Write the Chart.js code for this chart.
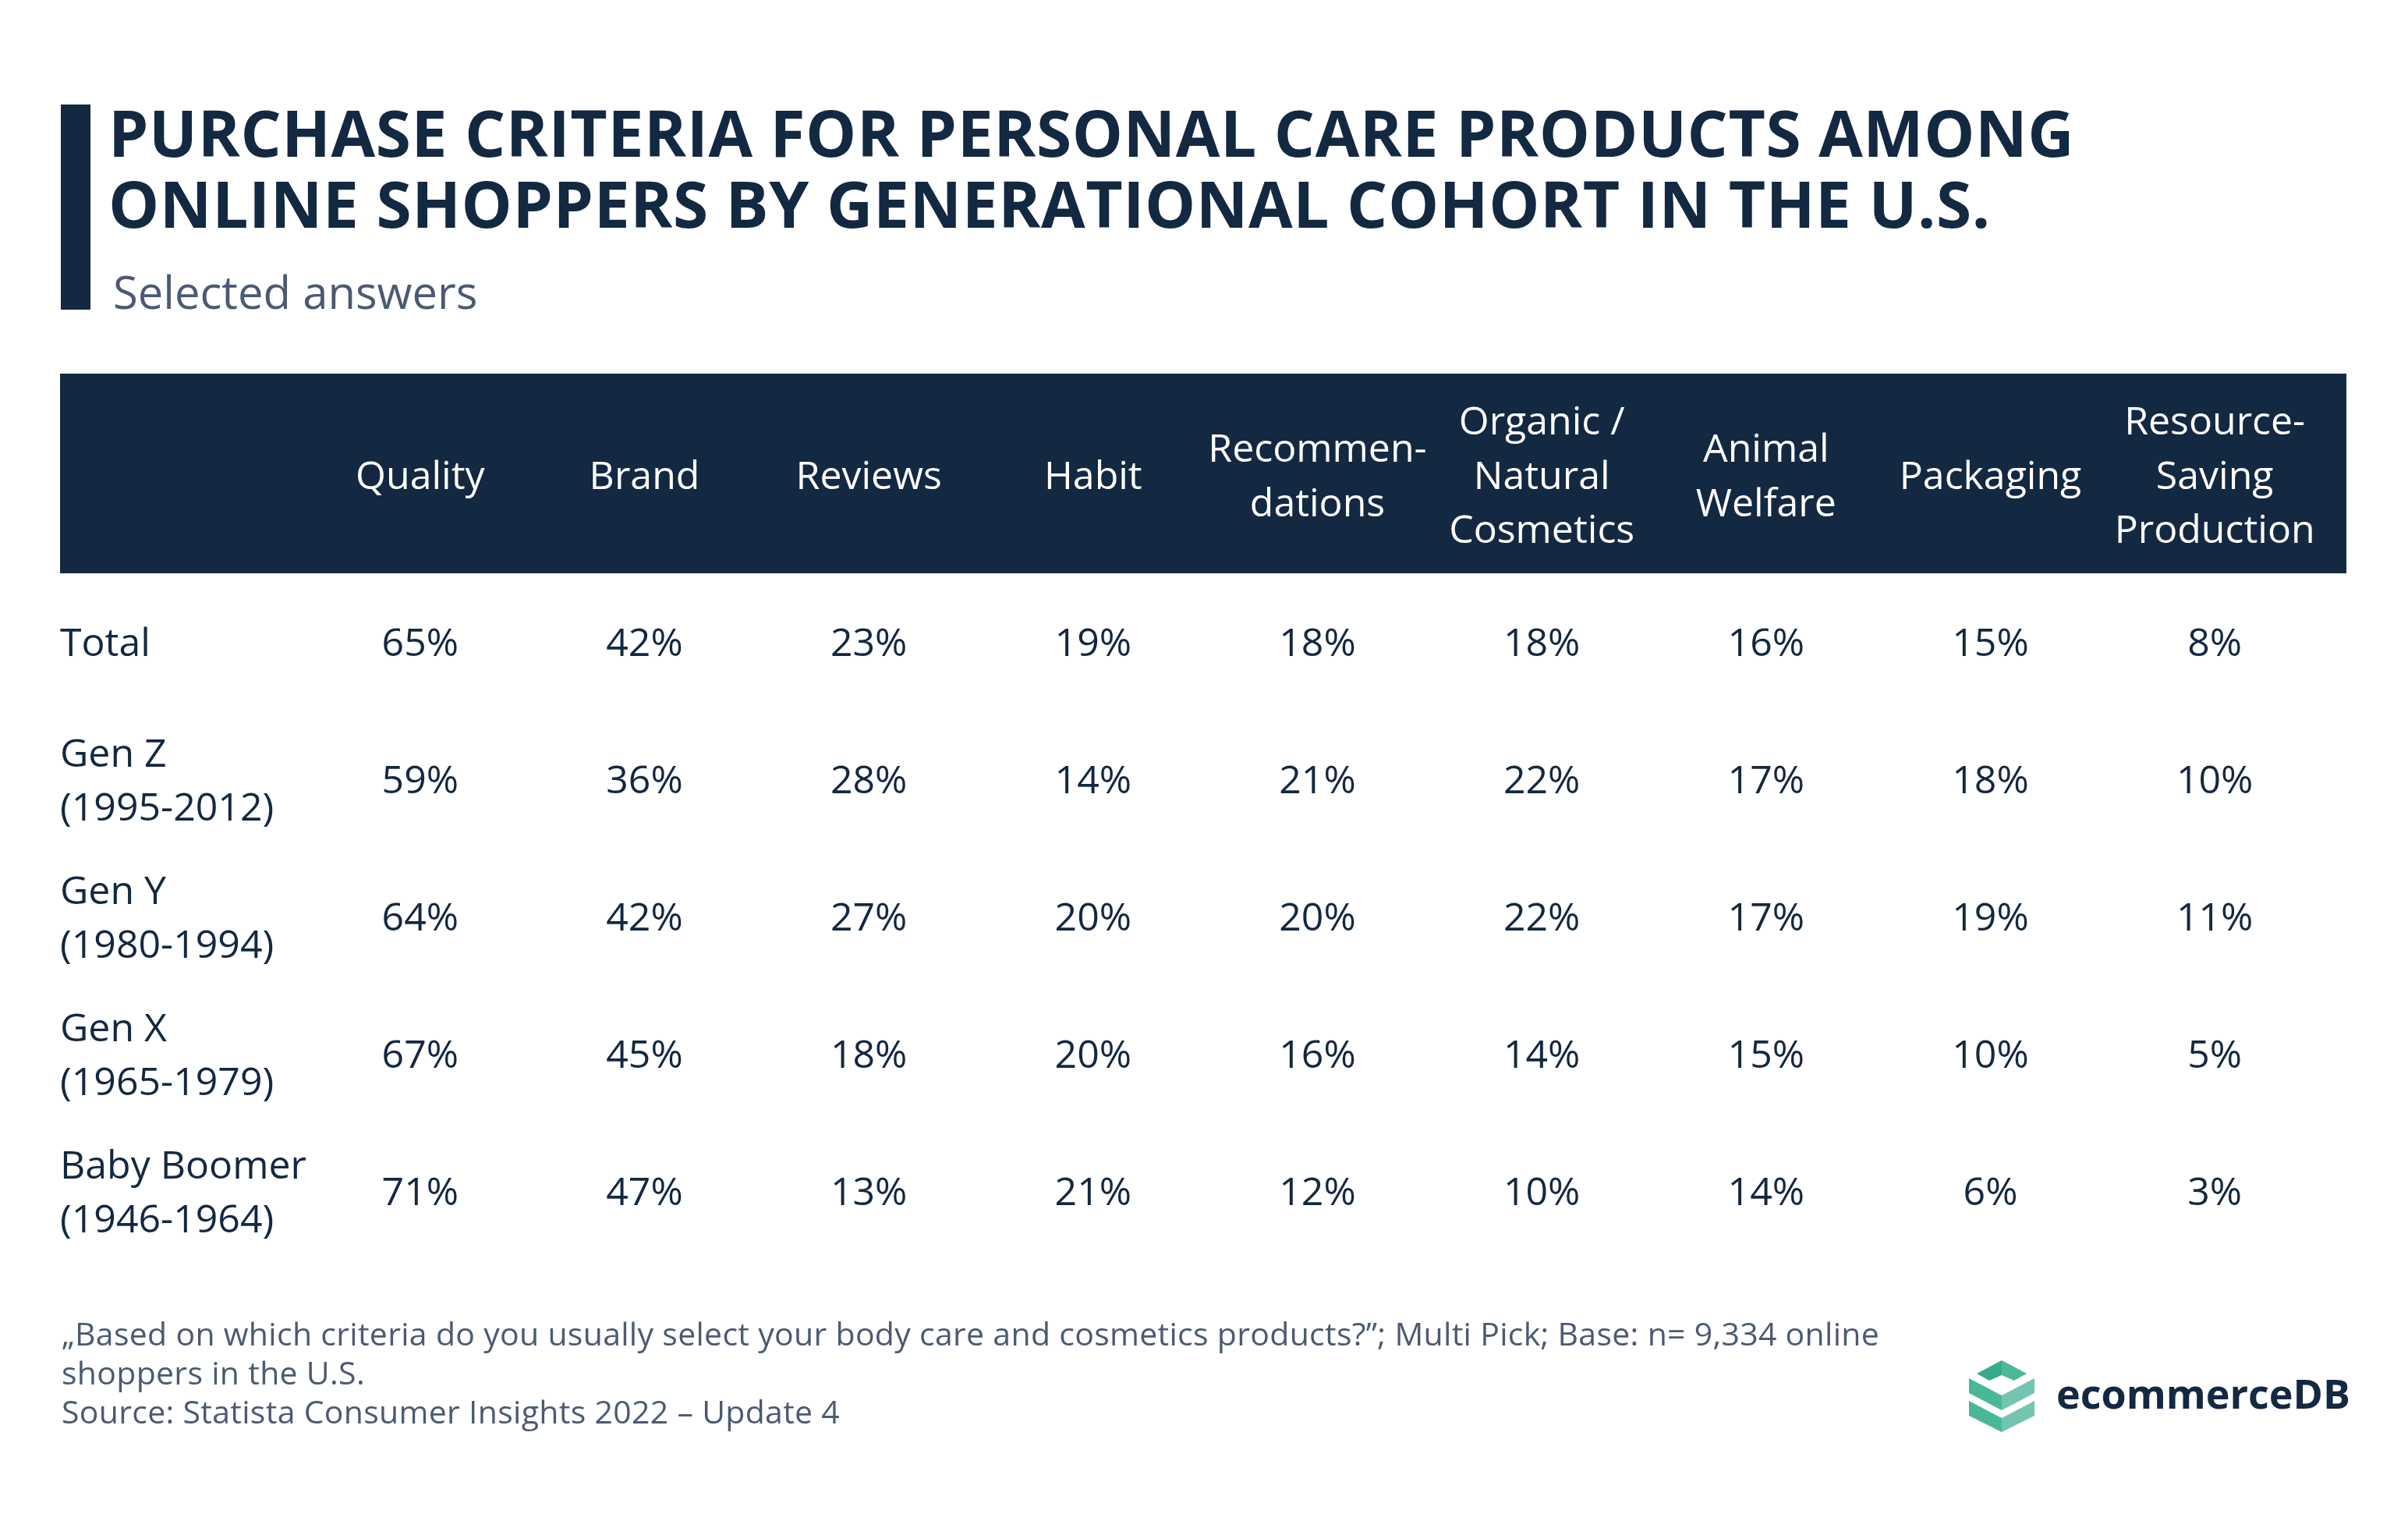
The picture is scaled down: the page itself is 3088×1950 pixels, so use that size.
<!DOCTYPE html>
<html>
<head>
<meta charset="utf-8">
<script src="https://cdn.jsdelivr.net/npm/chart.js@4.4.1/dist/chart.umd.min.js"></script>
<style>
    body{margin:0;background:#fff;font-family:'Open Sans',sans-serif;}
    .page{position:relative;width:3088px;height:1950px;overflow:hidden;background:#fff;}
    .chart_box{position:absolute;left:0;top:0;width:3088px;height:1950px;}
    .title_bar{position:absolute;left:78px;top:134px;width:38px;height:263px;background:#132841;}
    .title{position:absolute;left:139px;top:124px;font-size:82px;line-height:91px;letter-spacing:0.6px;font-weight:700;color:#132841;white-space:nowrap;}
    .subtitle{position:absolute;left:145px;top:339px;font-size:58px;line-height:70px;color:#4b5a73;white-space:nowrap;}
    .note{position:absolute;left:79px;top:1684px;font-size:41px;line-height:50px;letter-spacing:0.3px;color:#4b5a73;white-space:nowrap;}
    .logo{position:absolute;left:2525px;top:1744px;}
    .logo_text{position:absolute;left:2637px;top:1756px;font-size:52px;line-height:60px;font-weight:700;color:#132841;}
</style>
</head>
<body>
<div class="page">
    <div class="chart_box"><canvas id="criteriaTable"></canvas></div>
    <div class="title_bar"></div>
    <div class="title">PURCHASE CRITERIA FOR PERSONAL CARE PRODUCTS AMONG<br>ONLINE SHOPPERS BY GENERATIONAL COHORT IN THE U.S.</div>
    <div class="subtitle">Selected answers</div>
    <div class="note">„Based on which criteria do you usually select your body care and cosmetics products?”; Multi Pick; Base: n= 9,334 online<br>shoppers in the U.S.<br>Source: Statista Consumer Insights 2022 – Update 4</div>
    <svg class="logo" width="84" height="92" viewBox="0 0 84 92">
        <polygon points="10,17 42,0 42,19 26,26" fill="#38a98c"/>
        <polygon points="42,0 74,17 58,26 42,19" fill="#4bb898"/>
        <polygon points="0,23 42,45 42,64 0,42" fill="#4ab897"/>
        <polygon points="42,45 84,23 84,42 42,64" fill="#72c5b0"/>
        <polygon points="0,52 42,74 42,92 0,71" fill="#4ab897"/>
        <polygon points="42,74 84,52 84,71 42,92" fill="#72c5b0"/>
    </svg>
    <div class="logo_text">ecommerceDB</div>
</div>
<script>
const criteria = ['Quality','Brand','Reviews','Habit','Recommendations','Organic / Natural Cosmetics','Animal Welfare','Packaging','Resource-Saving Production']
const headerLines = [['Quality'],['Brand'],['Reviews'],['Habit'],['Recommen-','dations'],['Organic /','Natural','Cosmetics'],['Animal','Welfare'],['Packaging'],['Resource-','Saving','Production']]

const groups = ['Total','Gen Z (1995-2012)','Gen Y (1980-1994)','Gen X (1965-1979)','Baby Boomer (1946-1964)']
const groupLines = [['Total'],['Gen Z','(1995-2012)'],['Gen Y','(1980-1994)'],['Gen X','(1965-1979)'],['Baby Boomer','(1946-1964)']]

const total = [65,42,23,19,18,18,16,15,8]
const genZ = [59,36,28,14,21,22,17,18,10]
const genY = [64,42,27,20,20,22,17,19,11]
const genX = [67,45,18,20,16,14,15,10,5]
const babyBoomer = [71,47,13,21,12,10,14,6,3]
const rowValues = [total, genZ, genY, genX, babyBoomer]

const navy = '#132841'
const cellFont = {family:'Open Sans', size:50, lineHeight:1.39}

// dark band behind the column headers (top x axis)
const headerBand = {
    id:'headerBand',
    beforeDraw(chart){
        const x = chart.scales.x
        const ctx = chart.ctx
        ctx.save()
        ctx.fillStyle = navy
        ctx.fillRect(77, x.top, 3009 - 77, 256)
        ctx.restore()
    }
}

// percentage text at every point
const cellText = {
    id:'cellText',
    afterDatasetsDraw(chart){
        const ctx = chart.ctx
        ctx.save()
        ctx.font = `${cellFont.size}px "Open Sans"`
        ctx.fillStyle = navy
        ctx.textAlign = 'center'
        ctx.textBaseline = 'middle'
        chart.data.datasets.forEach((ds, i)=>{
            chart.getDatasetMeta(i).data.forEach((pt, j)=>{
                ctx.fillText(ds.data[j].v + '%', pt.x, pt.y)
            })
        })
        ctx.restore()
    }
}

const draw = ()=>{
    let tableCtx = document.getElementById('criteriaTable').getContext('2d')
    new Chart(tableCtx, {
        type:'scatter',
        data:{
            datasets: rowValues.map((vals, r)=>({
                label: groups[r],
                data: vals.map((v, j)=>({x: criteria[j], y: groups[r], v: v})),
                pointRadius:0,
                pointHoverRadius:0
            }))
        },
        options:{
            responsive:true,
            maintainAspectRatio:false,
            animation:false,
            events:[],
            layout:{padding:{left:77, right:104, top:479, bottom:331}},
            plugins:{legend:{display:false}, tooltip:{enabled:false}},
            scales:{
                x:{
                    type:'category',
                    labels: criteria,
                    position:'top',
                    offset:true,
                    grid:{display:false},
                    border:{display:false},
                    ticks:{
                        autoSkip:false,
                        maxRotation:0,
                        minRotation:0,
                        crossAlign:'center',
                        padding:49,
                        color:'#ffffff',
                        font:cellFont,
                        callback:(v, i)=>headerLines[i]
                    },
                    afterFit:(s)=>{ s.height = 260 }
                },
                y:{
                    type:'category',
                    labels: groups,
                    offset:true,
                    grid:{display:false},
                    border:{display:false},
                    ticks:{
                        autoSkip:false,
                        crossAlign:'far',
                        padding:0,
                        color:navy,
                        font:cellFont,
                        callback:(v, i)=>groupLines[i]
                    },
                    afterFit:(s)=>{ s.width = 318 }
                }
            }
        },
        plugins:[headerBand, cellText]
    })
}

document.fonts.load('50px "Open Sans"').then(draw, draw)
</script>
</body>
</html>
